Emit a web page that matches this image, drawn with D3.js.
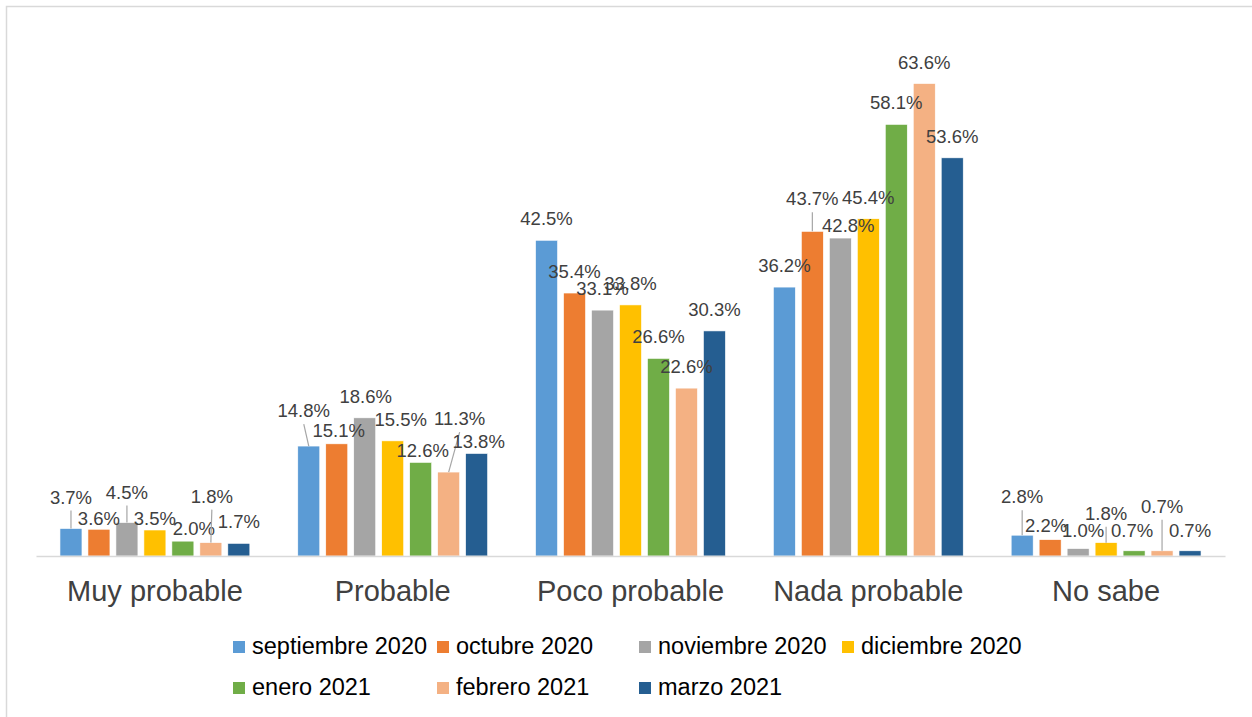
<!DOCTYPE html>
<html>
<head>
<meta charset="utf-8">
<script src="https://cdn.jsdelivr.net/npm/d3@7"></script>
<style>
  html, body { margin: 0; padding: 0; background: #fff; }
  svg { display: block; font-family: "Liberation Sans", Arial, sans-serif; }
</style>
</head>
<body>
<svg id="chart" width="1252" height="717"></svg>
<script>
// ---- data ----
const categories = ["Muy probable", "Probable", "Poco probable", "Nada probable", "No sabe"];
const seriesNames = ["septiembre 2020", "octubre 2020", "noviembre 2020", "diciembre 2020", "enero 2021", "febrero 2021", "marzo 2021"];
const septiembre2020 = [3.7, 14.8, 42.5, 36.2, 2.8];
const octubre2020    = [3.6, 15.1, 35.4, 43.7, 2.2];
const noviembre2020  = [4.5, 18.6, 33.1, 42.8, 1.0];
const diciembre2020  = [3.5, 15.5, 33.8, 45.4, 1.8];
const enero2021      = [2.0, 12.6, 26.6, 58.1, 0.7];
const febrero2021    = [1.8, 11.3, 22.6, 63.6, 0.7];
const marzo2021      = [1.7, 13.8, 30.3, 53.6, 0.7];
const seriesValues = [septiembre2020, octubre2020, noviembre2020, diciembre2020, enero2021, febrero2021, marzo2021];
const colors = ["#5b9bd5", "#ed7d31", "#a5a5a5", "#ffc000", "#70ad47", "#f4b183", "#255e91"];

// ---- label layout nudges [dx, dy, leader] per series, per category ----
const labelNudge = [
  [[0,-10,1],[-5,-14,1],[0,0,0],[0,0,0],[0,-17,1]],
  [[0,11,0],[2,8,0],[0,0,0],[0,-11,1],[-4,7,0]],
  [[0,-9,1],[1,0,0],[0,0,0],[8,9,0],[5,3,0]],
  [[0,10,0],[8,0,0],[0,0,0],[0,0,0],[0,-8,1]],
  [[11,9,0],[2,10,0],[0,0,0],[0,0,0],[-2,1,0]],
  [[1,-25,1],[11,-32,1],[0,0,0],[0,0,0],[0,-23,1]],
  [[0,0,0],[2,10,0],[0,0,0],[0,0,0],[0,1,0]]
];

const svg = d3.select("#chart");

// chart border
svg.append("rect")
  .attr("x", 6.5).attr("y", 6.5)
  .attr("width", 1270).attr("height", 730)
  .attr("fill", "#fff").attr("stroke", "#d9d9d9").attr("stroke-width", 1.5);

const plotLeft = 36, plotRight = 1225, baseY = 556, topY = 36;

const x0 = d3.scaleBand().domain(categories).range([plotLeft, plotRight]).paddingInner(0).paddingOuter(0);
const x1 = d3.scaleBand().domain(seriesNames).range([0, x0.bandwidth()])
  .paddingInner(0.214).paddingOuter(0.857);
const y = d3.scaleLinear().domain([0, 70]).range([baseY, topY]);

// bars
seriesNames.forEach((s, si) => {
  const g = svg.append("g");
  g.selectAll("rect")
    .data(categories.map((c, ci) => ({ c, v: seriesValues[si][ci] })))
    .join("rect")
    .attr("x", d => x0(d.c) + x1(s))
    .attr("y", d => y(d.v))
    .attr("width", x1.bandwidth())
    .attr("height", d => y(0) - y(d.v))
    .attr("fill", colors[si])
    .attr("stroke", "#ffffff")
    .attr("stroke-width", 0.6);
});

// baseline axis
const axis = svg.append("g").attr("transform", `translate(0,${baseY})`)
  .call(d3.axisBottom(x0).tickSize(0).tickPadding(0));
axis.select(".domain").attr("stroke", "#d9d9d9").attr("stroke-width", 1.3);
axis.selectAll("text")
  .attr("y", 45).attr("dy", 0)
  .attr("fill", "#404040")
  .style("font-size", "29px")
  .style("font-family", "'Liberation Sans', Arial, sans-serif");

// data labels with leader lines
seriesNames.forEach((s, si) => {
  categories.forEach((c, ci) => {
    const v = seriesValues[si][ci];
    const cx = x0(c) + x1(s) + x1.bandwidth() / 2;
    const [dx, dy, leader] = labelNudge[si][ci];
    const ly = y(v) - 15 + dy;
    const lx = cx + dx;
    if (leader) {
      svg.append("line")
        .attr("x1", cx).attr("y1", y(v))
        .attr("x2", lx).attr("y2", ly + 7)
        .attr("stroke", "#a6a6a6").attr("stroke-width", 1.2);
    }
    svg.append("text")
      .attr("x", lx).attr("y", ly)
      .attr("text-anchor", "middle")
      .attr("fill", "#404040")
      .style("font-size", "18.5px")
      .text(v.toFixed(1) + "%");
  });
});

// legend
const legendCols = [233, 437, 639, 842];
const legendRows = [641, 682];
seriesNames.forEach((s, i) => {
  const row = i < 4 ? 0 : 1;
  const col = i < 4 ? i : i - 4;
  const gx = legendCols[col], gy = legendRows[row];
  svg.append("rect").attr("x", gx).attr("y", gy).attr("width", 12).attr("height", 12).attr("fill", colors[i]);
  svg.append("text").attr("x", gx + 19).attr("y", gy + 13)
    .attr("fill", "#000")
    .style("font-size", "23.5px")
    .text(s);
});
</script>
</body>
</html>
